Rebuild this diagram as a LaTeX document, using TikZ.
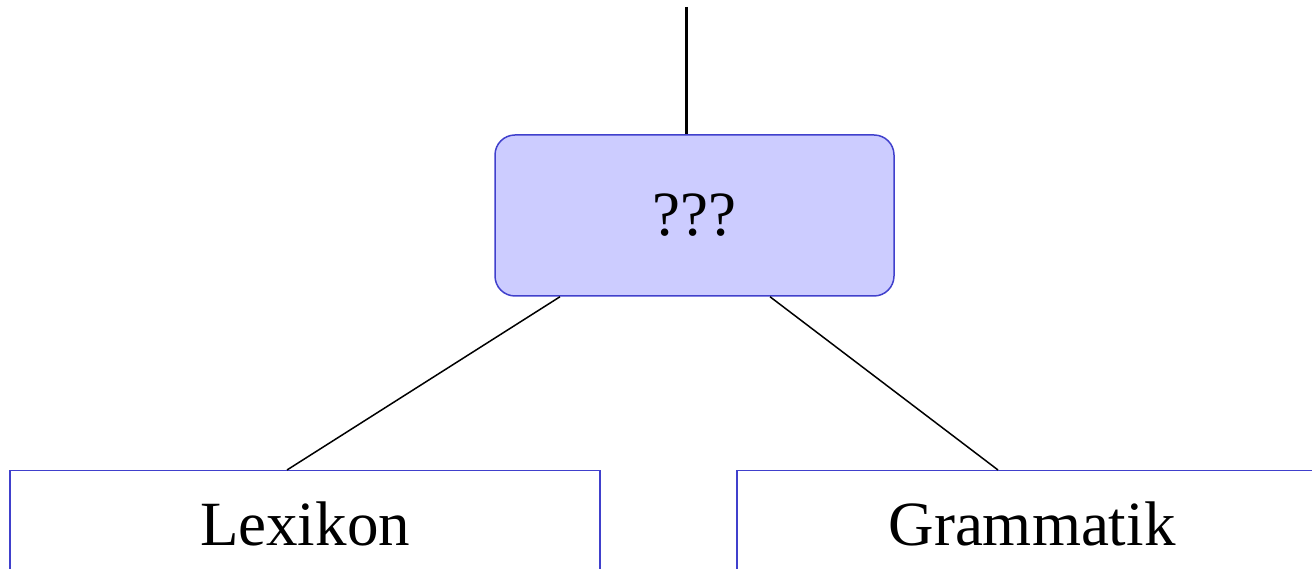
\documentclass[tikz,border=0pt]{standalone}
\usepackage{fontspec}
\setmainfont{Liberation Serif}
\usetikzlibrary{calc}
\definecolor{boxfill}{HTML}{CCCCFF}
\definecolor{boxline}{HTML}{4040CC}
\begin{document}
\begin{tikzpicture}[x=1pt,y=1pt,
  midbox/.style={draw=boxline, fill=boxfill, line width=1.5pt, rounded corners=20pt,
    minimum width=399pt, minimum height=161pt, inner sep=0pt, font=\fontsize{63}{70}\selectfont},
  leafbox/.style={draw=boxline, fill=white, line width=1.5pt,
    minimum width=590pt, minimum height=100pt, inner sep=0pt, anchor=north, font=\fontsize{63}{70}\selectfont},
  edge/.style={line width=1.5pt, black}]
\useasboundingbox (0,0) rectangle (1312,569);
\node[midbox] (q) at (694.5,353.5) {\raisebox{-3pt}{???}};
\node[leafbox, text depth=0pt] (lex) at (305,99) {\raisebox{-6pt}{Lexikon}};
\node[leafbox, text depth=0pt] (gram) at (1032,99) {\raisebox{-6pt}{Grammatik}};
\coordinate (top) at (686,562);
\draw[line width=3pt] (top) -- (top |- q.north);
\draw[edge] ($(q.south)+(-134.5,0)$) -- ($(lex.north)+(-18,0)$);
\draw[edge] ($(q.south)+(75.5,0)$) -- ($(gram.north)+(-34,0)$);
\end{tikzpicture}
\end{document}
